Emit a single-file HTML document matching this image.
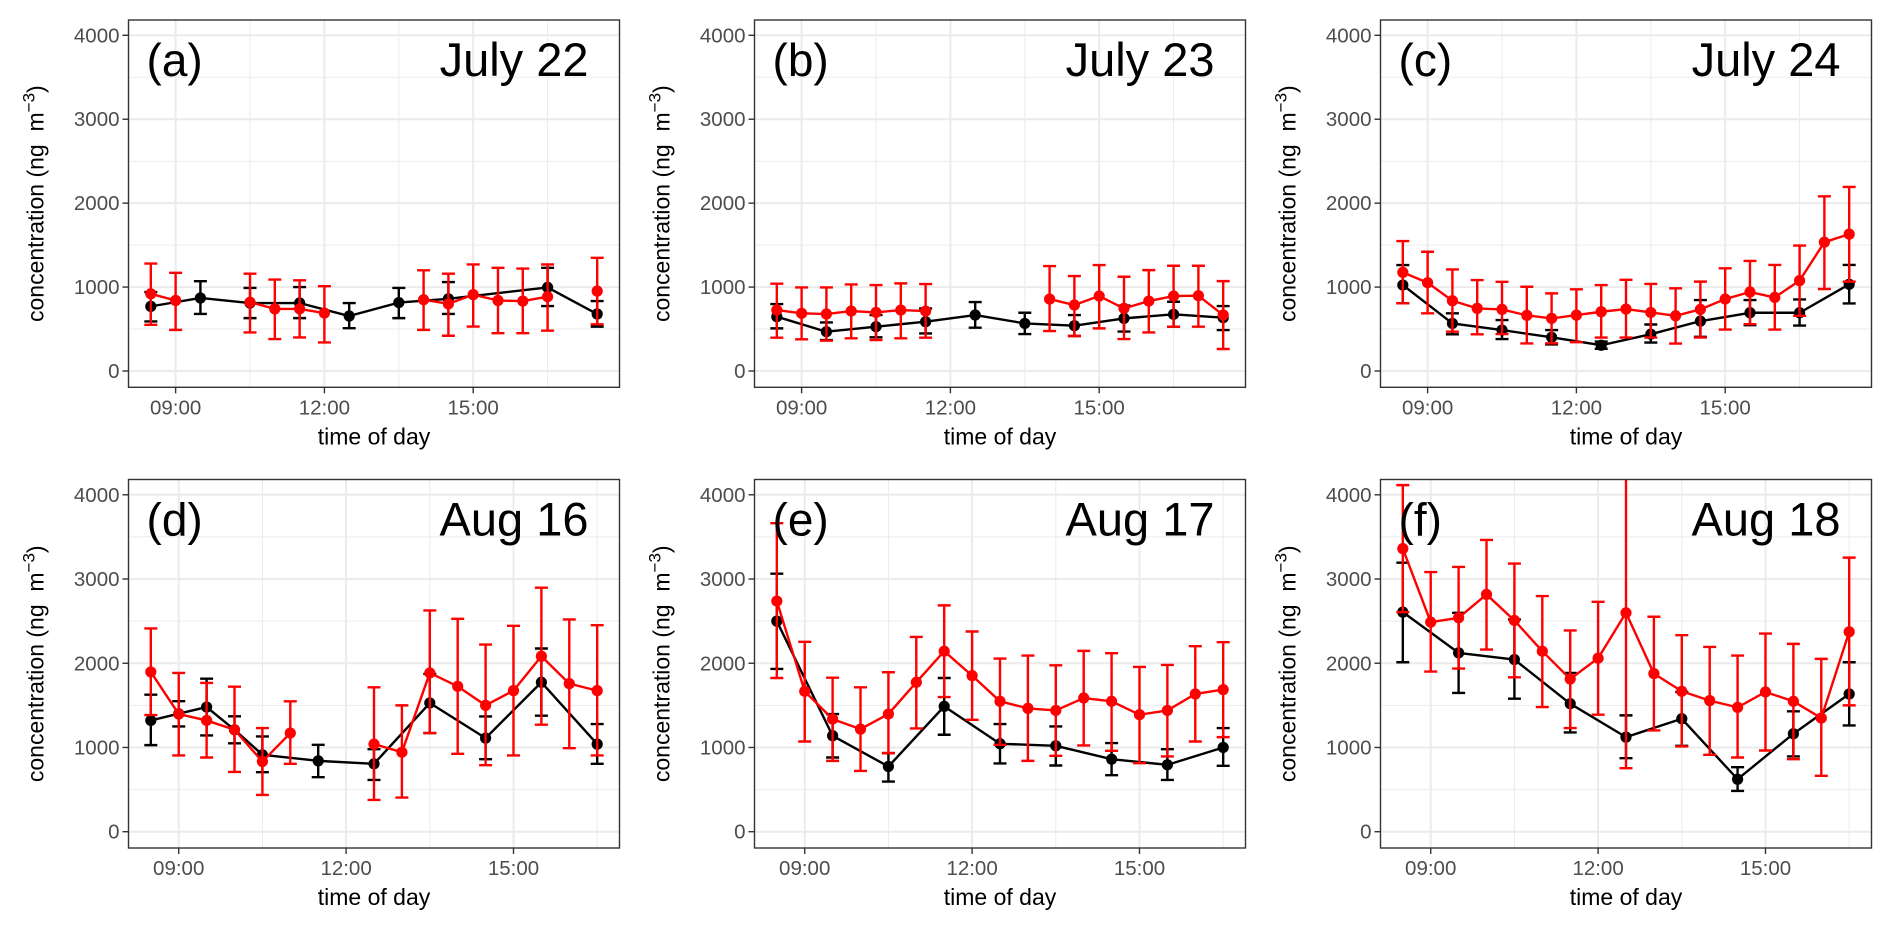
<!DOCTYPE html>
<html><head><meta charset="utf-8">
<style>
html,body{margin:0;padding:0;background:#fff;}
svg{display:block;font-family:"Liberation Sans",Arial,sans-serif;}
</style></head>
<body>
<svg id="fig" width="1892" height="931" viewBox="0 0 1892 931" xmlns="http://www.w3.org/2000/svg"></svg>
<script>
// ---- Panel (a) July 22
const blackTimesA=[8.5,9.5,10.5,11.5,12.5,13.5,14.5,16.5,17.5];
const blackA=[770,870,810,810,655,815,860,996,679];
const blackLoA=[590,680,630,630,510,630,680,774,528];
const blackHiA=[940,1070,990,1000,810,990,1060,1230,833];
const redTimesA=[8.5,9,9.5,10,10.5,11,11.5,12,12.5,13,13.5,14,14.5,15,15.5,16,16.5,17,17.5];
const redA=[920,840,null,null,820,740,740,690,null,null,null,850,800,910,840,833,885,null,952];
const redLoA=[550,490,null,null,460,380,400,340,null,null,null,490,420,530,450,450,480,null,556];
const redHiA=[1280,1170,null,null,1160,1090,1080,1010,null,null,null,1200,1160,1270,1230,1220,1270,null,1349];
// ---- Panel (b) July 23
const blackTimesB=[8.5,9.5,10.5,11.5,12.5,13.5,14.5,15.5,16.5,17.5];
const blackB=[647,468,528,587,667,567,540,627,675,635];
const blackLoB=[508,369,401,448,516,440,417,470,528,488];
const blackHiB=[798,579,667,746,821,694,667,780,825,774];
const redTimesB=[8.5,9,9.5,10,10.5,11,11.5,12,12.5,13,13.5,14,14.5,15,15.5,16,16.5,17,17.5];
const redB=[726,687,679,714,698,726,714,null,null,null,null,857,786,893,746,833,893,897,667];
const redLoB=[397,377,361,389,369,389,397,null,null,null,null,476,417,508,381,460,528,528,262];
const redHiB=[1040,996,996,1032,1024,1044,1036,null,null,null,null,1250,1131,1262,1123,1202,1254,1254,1071];
// ---- Panel (c) July 24
const blackTimesC=[8.5,9.5,10.5,11.5,12.5,13.5,14.5,15.5,16.5,17.5];
const blackC=[1024,567,488,401,307,439,594,694,694,1033];
const blackLoC=[806,437,381,317,265,339,407,546,542,805];
const blackHiC=[1262,687,607,488,350,554,845,845,853,1264];
const redTimesC=[8.5,9,9.5,10,10.5,11,11.5,12,12.5,13,13.5,14,14.5,15,15.5,16,16.5,17,17.5];
const redC=[1175,1052,837,746,734,663,627,666,706,738,698,658,734,857,941,877,1077,1535,1631];
const redLoC=[806,687,468,437,440,329,330,343,399,399,399,327,399,494,558,494,658,977,1065];
const redHiC=[1548,1421,1210,1083,1063,1004,925,973,1024,1087,1037,985,1065,1224,1312,1264,1495,2081,2193];
// ---- Panel (d) Aug 16
const blackTimesD=[8.5,9,9.5,10,10.5,11.5,12.5,13.5,14.5,15.5,16.5];
const blackD=[1321,1401,1480,1210,913,841,806,1528,1111,1774,1040];
const blackLoD=[1028,1250,1143,1050,706,647,615,1171,861,1377,806];
const blackHiD=[1627,1550,1817,1370,1131,1032,980,1873,1369,2175,1278];
const redTimesD=[8.5,9,9.5,10,10.5,11,11.5,12,12.5,13,13.5,14,14.5,15,15.5,16,16.5];
const redD=[1897,1397,1321,1210,833,1171,null,null,1040,944,1885,1726,1500,1675,2083,1758,1675];
const redLoD=[1385,905,881,710,437,806,null,null,377,405,1171,925,790,905,1270,992,905];
const redHiD=[2413,1885,1766,1722,1230,1548,null,null,1714,1500,2627,2528,2222,2444,2897,2520,2452];
// ---- Panel (e) Aug 17
const blackTimesE=[8.5,9.5,10.5,11.5,12.5,13.5,14.5,15.5,16.5];
const blackE=[2500,1139,774,1488,1044,1020,861,794,1000];
const blackLoE=[1933,881,595,1151,810,786,671,615,782];
const blackHiE=[3063,1397,933,1825,1278,1250,1052,980,1230];
const redTimesE=[8.5,9,9.5,10,10.5,11,11.5,12,12.5,13,13.5,14,14.5,15,15.5,16,16.5];
const redE=[2738,1667,1337,1218,1397,1774,2143,1853,1548,1464,1440,1587,1548,1389,1440,1635,1687];
const redLoE=[1825,1071,841,722,933,1226,1599,1329,1032,841,901,1024,960,813,893,1071,1123];
const redHiE=[3663,2254,1829,1714,1893,2313,2687,2377,2056,2091,1976,2147,2119,1956,1980,2202,2250];
// ---- Panel (f) Aug 18
const blackTimesF=[8.5,9.5,10.5,11.5,12.5,13.5,14.5,15.5,16.5];
const blackF=[2607,2123,2044,1520,1123,1341,623,1163,1635];
const blackLoF=[2012,1647,1579,1179,873,1020,484,893,1262];
const blackHiF=[3194,2599,2520,1885,1381,1659,766,1429,2012];
const redTimesF=[8.5,9,9.5,10,10.5,11,11.5,12,12.5,13,13.5,14,14.5,15,15.5,16,16.5];
const redF=[3361,2488,2540,2817,2508,2143,1813,2060,2599,1877,1667,1556,1476,1659,1548,1349,2373];
const redLoF=[2607,1901,1937,2163,1833,1480,1230,1389,754,1202,1012,913,881,964,861,663,1500];
const redHiF=[4115,3083,3143,3464,3183,2798,2389,2730,5000,2552,2333,2194,2091,2353,2230,2052,3254];

const panelLabels=["(a)","(b)","(c)","(d)","(e)","(f)"];
const dateLabels=["July 22","July 23","July 24","Aug 16","Aug 17","Aug 18"];
const yTicks=[0,1000,2000,3000,4000];
const yMinor=[500,1500,2500,3500];
const xTicks=[9,12,15];
const xTickLabels=["09:00","12:00","15:00"];
const xMinor=[10.5,13.5,16.5];

const NS="http://www.w3.org/2000/svg";
const svg=document.getElementById('fig');
function mk(tag,attrs,parent){const e=document.createElementNS(NS,tag);for(const k in attrs)e.setAttribute(k,attrs[k]);(parent||svg).appendChild(e);return e;}

const panels=[
 {bt:blackTimesA,b:blackA,bl:blackLoA,bh:blackHiA,rt:redTimesA,r:redA,rl:redLoA,rh:redHiA},
 {bt:blackTimesB,b:blackB,bl:blackLoB,bh:blackHiB,rt:redTimesB,r:redB,rl:redLoB,rh:redHiB},
 {bt:blackTimesC,b:blackC,bl:blackLoC,bh:blackHiC,rt:redTimesC,r:redC,rl:redLoC,rh:redHiC},
 {bt:blackTimesD,b:blackD,bl:blackLoD,bh:blackHiD,rt:redTimesD,r:redD,rl:redLoD,rh:redHiD},
 {bt:blackTimesE,b:blackE,bl:blackLoE,bh:blackHiE,rt:redTimesE,r:redE,rl:redLoE,rh:redHiE},
 {bt:blackTimesF,b:blackF,bl:blackLoF,bh:blackHiF,rt:redTimesF,r:redF,rl:redLoF,rh:redHiF}
];
const lefts=[128.5,754.5,1380.5];
const W=491;
const rows=[{top:20,bottom:387.3,dom:[8.05,17.95]},{top:479.5,bottom:848,dom:[8.1,16.9]}];

panels.forEach((p,i)=>{
  const row=rows[Math.floor(i/3)];
  const L=lefts[i%3], T=row.top, B=row.bottom;
  const y0=B-16.3, yk=(y0-(T+15.3))/4000;
  const yS=v=>y0-v*yk;
  const xS=t=>L+(t-row.dom[0])/(row.dom[1]-row.dom[0])*W;
  const g=mk('g',{});
  
  
  const clipId='clip'+i;
  const cp=mk('clipPath',{id:clipId},g);
  mk('rect',{x:L,y:T,width:W,height:B-T},cp);
  const grid=mk('g',{},g);
  
  
  yMinor.forEach(v=>mk('line',{x1:L,x2:L+W,y1:yS(v),y2:yS(v),stroke:'#ebebeb','stroke-width':1},grid));
  xMinor.forEach(t=>{if(t<row.dom[1])mk('line',{x1:xS(t),x2:xS(t),y1:T,y2:B,stroke:'#ebebeb','stroke-width':1},grid);});
  yTicks.forEach(v=>mk('line',{x1:L,x2:L+W,y1:yS(v),y2:yS(v),stroke:'#ebebeb','stroke-width':2},grid));
  xTicks.forEach(t=>mk('line',{x1:xS(t),x2:xS(t),y1:T,y2:B,stroke:'#ebebeb','stroke-width':2},grid));
  const data=mk('g',{'clip-path':'url(#'+clipId+')'},g);
  function series(times,vals,lo,hi,color,name){
    const sg=mk('g',{},data);
    
    
    times.forEach((t,k)=>{
      if(vals[k]==null)return;
      const x=xS(t);
      const eb=mk('path',{d:`M${x-6.5},${yS(hi[k])}H${x+6.5}M${x},${yS(hi[k])}V${yS(lo[k])}M${x-6.5},${yS(lo[k])}H${x+6.5}`,stroke:color,'stroke-width':2.4,fill:'none'},sg);
      
      
    });
    let d='',pen=false;
    times.forEach((t,k)=>{
      if(vals[k]==null){pen=false;return;}
      d+=(pen?'L':'M')+xS(t)+','+yS(vals[k]);pen=true;
    });
    const ln=mk('path',{d:d,stroke:color,'stroke-width':2.4,fill:'none','stroke-linejoin':'round'},sg);
    
    
    times.forEach((t,k)=>{
      if(vals[k]==null)return;
      const c=mk('circle',{cx:xS(t),cy:yS(vals[k]),r:5.6,fill:color},sg);
      
      
    });
  }
  series(p.bt,p.b,p.bl,p.bh,'#000000','black-series');
  series(p.rt,p.r,p.rl,p.rh,'#ff0000','red-series');
  const br=mk('rect',{x:L,y:T,width:W,height:B-T,fill:'none',stroke:'#333333','stroke-width':1.4},g);
  
  
  yTicks.forEach(v=>{
    mk('line',{x1:L-6,x2:L,y1:yS(v),y2:yS(v),stroke:'#333','stroke-width':1.4},g);
    const tx=mk('text',{x:L-9,y:yS(v)+7,'text-anchor':'end','font-size':20.5,fill:'#4d4d4d'},g);
    tx.textContent=v;
    
    
  });
  xTicks.forEach((t,k)=>{
    mk('line',{x1:xS(t),x2:xS(t),y1:B,y2:B+6,stroke:'#333','stroke-width':1.4},g);
    const tx=mk('text',{x:xS(t),y:B+27,'text-anchor':'middle','font-size':20.5,fill:'#4d4d4d'},g);
    tx.textContent=xTickLabels[k];
    
    
  });
  const xt=mk('text',{x:L+W/2,y:B+57,'text-anchor':'middle','font-size':23,fill:'#000'},g);
  xt.textContent='time of day';
  
  
  const cy=(T+B)/2;
  const yt=mk('text',{x:L-85,y:cy,'text-anchor':'middle','font-size':23,fill:'#000',transform:`rotate(-90 ${L-85} ${cy})`},g);
  
  
  yt.appendChild(document.createTextNode('concentration (ng \u00a0m'));
  const sup=mk('tspan',{dy:-9,'font-size':17},yt);
  sup.textContent='\u22123';
  const cl=mk('tspan',{dy:9},yt);
  cl.textContent=')';
  const pl=mk('text',{x:L+18,y:T+56,'font-size':46,fill:'#000'},g);
  pl.textContent=panelLabels[i];
  
  
  const dl=mk('text',{x:L+W-31,y:T+56,'text-anchor':'end','font-size':47,fill:'#000'},g);
  dl.textContent=dateLabels[i];
  
  
});
</script>
</body></html>
